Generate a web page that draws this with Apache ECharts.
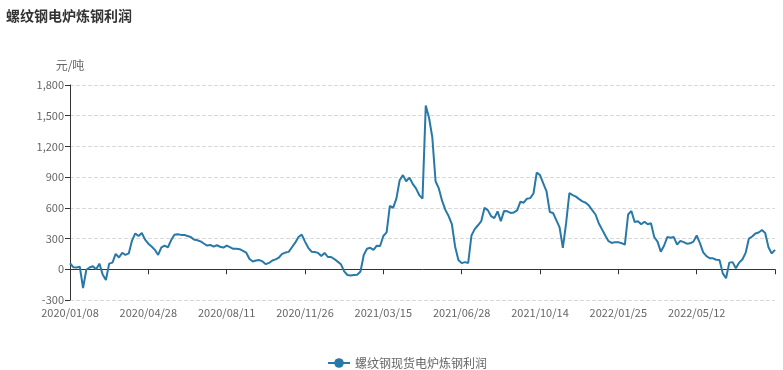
<!DOCTYPE html>
<html>
<head>
<meta charset="utf-8">
<script src="https://cdn.jsdelivr.net/npm/echarts@6/dist/echarts.min.js"></script>
<style>html,body{margin:0;padding:0;background:#fff}#c{width:783px;height:370px}</style>
</head>
<body>
<div id="c"></div>
<script>
// tick label dates (every 24 points), plus end date of the series
const tickLabels = ['2020/01/08','2020/04/28','2020/08/11','2020/11/26','2021/03/15','2021/06/28','2021/10/14','2022/01/25','2022/05/12'];
const endDate = '2022/08/26';
const pointsPerLabel = 24;

// 螺纹钢现货电炉炼钢利润 (元/吨)
const profit = [
  59, 20, 18, 25, -183, -5, 18, 30, 0, 55, -50, -105, 55, 65, 150, 115, 160, 140, 155, 280, 350, 325, 355, 290,
  250, 222, 190, 140, 215, 232, 215, 285, 338, 343, 336, 336, 325, 315, 290, 284, 272, 252, 232, 238, 222, 235, 220, 212,
  232, 216, 200, 200, 196, 180, 162, 100, 76, 86, 90, 77, 50, 62, 86, 97, 115, 150, 163, 170, 215, 260, 315, 338,
  270, 210, 172, 168, 160, 130, 160, 120, 120, 100, 75, 50, -20, -56, -60, -56, -54, -22, 140, 200, 210, 190, 230, 228,
  325, 360, 620, 600, 690, 870, 920, 860, 895, 835, 790, 725, 690, 1600, 1480, 1290, 860, 790, 670, 580, 520, 440, 220, 90,
  60, 70, 62, 330, 392, 430, 470, 600, 578, 520, 500, 565, 470, 570, 566, 550, 555, 575, 660, 650, 690, 695, 740, 945,
  920, 840, 760, 560, 550, 480, 410, 210, 450, 745, 725, 710, 685, 663, 650, 622, 577, 535, 450, 390, 330, 275, 257, 265,
  265, 255, 240, 535, 570, 462, 470, 440, 465, 440, 450, 315, 270, 172, 230, 315, 308, 315, 240, 278, 265, 250, 254, 270,
  330, 255, 165, 128, 108, 107, 93, 91, -40, -88, 65, 70, 10, 65, 95, 160, 300, 320, 350, 360, 384, 355, 215, 155,
  190
];

// category dates: spread between consecutive tick-label dates
function parseD(s){const p=s.split('/');return Date.UTC(+p[0],+p[1]-1,+p[2]);}
function fmtD(t){const d=new Date(t);const m=d.getUTCMonth()+1,dd=d.getUTCDate();return d.getUTCFullYear()+'/'+(m<10?'0':'')+m+'/'+(dd<10?'0':'')+dd;}
const anchors = tickLabels.concat([endDate]);
const categories = [];
for (let s = 0; s < anchors.length - 1; s++) {
  const a = parseD(anchors[s]), b = parseD(anchors[s+1]);
  for (let k = 0; k < pointsPerLabel; k++) {
    const days = Math.round(k * (b - a) / 86400000 / pointsPerLabel);
    categories.push(fmtD(a + days * 86400000));
  }
}
categories.push(endDate);
const lastIdx = categories.length - 1;

const chart = echarts.init(document.getElementById('c'), null, {renderer: 'canvas'});
const font = "'Noto Sans CJK SC', 'Noto Sans', sans-serif";
chart.setOption({
  animation: false,
  textStyle: {fontFamily: font},
  title: {
    text: '螺纹钢电炉炼钢利润',
    left: 1, top: 4,
    textStyle: {fontSize: 14, fontWeight: 'bold', color: '#333', fontFamily: font}
  },
  legend: {
    left: 322, top: 352,
    itemWidth: 22, itemHeight: 12, itemGap: 10,
    textStyle: {fontSize: 12, color: '#666', fontFamily: font},
    data: ['螺纹钢现货电炉炼钢利润']
  },
  grid: {left: 70, right: 8, top: 85, bottom: 70, containLabel: false},
  xAxis: {
    type: 'category',
    data: categories,
    boundaryGap: false,
    axisLine: {onZero: true, lineStyle: {color: '#333', width: 1}},
    axisTick: {show: true, length: 5, interval: function (i) { return i % pointsPerLabel === 0; }, lineStyle: {color: '#333', width: 1}},
    axisLabel: {
      interval: function (i) { return i % pointsPerLabel === 0 && i < lastIdx; },
      margin: 7, fontSize: 11, color: '#666', fontFamily: font
    },
    splitLine: {show: false}
  },
  yAxis: {
    type: 'value',
    min: -300, max: 1800, interval: 300,
    name: '元/吨',
    nameGap: 14,
    nameTextStyle: {fontSize: 12, color: '#666', fontFamily: font},
    axisLine: {show: true, lineStyle: {color: '#333', width: 1}},
    axisTick: {show: true, length: 5, lineStyle: {color: '#333'}},
    axisLabel: {fontSize: 11, color: '#666', fontFamily: font, margin: 6},
    splitLine: {show: true, lineStyle: {type: 'dashed', color: '#d9d9d9'}}
  },
  series: [{
    name: '螺纹钢现货电炉炼钢利润',
    type: 'line',
    data: profit,
    symbol: 'circle',
    symbolSize: 9,
    showSymbol: false,
    lineStyle: {width: 2, color: '#2878a8'},
    itemStyle: {color: '#2878a8'}
  }]
});
</script>
</body>
</html>
